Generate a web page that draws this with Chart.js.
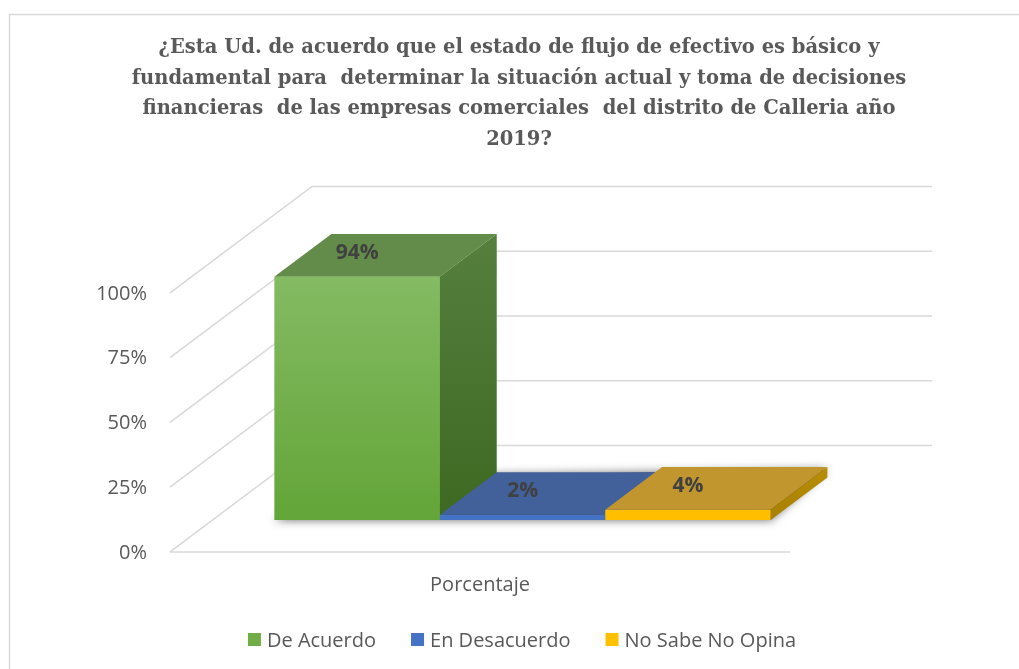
<!DOCTYPE html>
<html>
<head>
<meta charset="utf-8">
<script src="https://cdn.jsdelivr.net/npm/chart.js@4.4.1/dist/chart.umd.min.js"></script>
<style>
  body { margin: 0; background: #fff; }
  canvas { display: block; }
</style>
</head>
<body>
<canvas id="chart" width="1019" height="669"></canvas>
<script>
var titleLines = [
    "¿Esta Ud. de acuerdo que el estado de flujo de efectivo es básico y",
    "fundamental para  determinar la situación actual y toma de decisiones",
    "financieras  de las empresas comerciales  del distrito de Calleria año",
    "2019?"
];
var categories = ["Porcentaje"];
var seriesNames = ["De Acuerdo", "En Desacuerdo", "No Sabe No Opina"];
var deAcuerdo = [94];
var enDesacuerdo = [2];
var noSabe = [4];
var yTicks = [0, 25, 50, 75, 100];
var yTickLabels = ["0%", "25%", "50%", "75%", "100%"];

// colours of each box: front gradient, top face, side gradient, legend swatch
var green = { front: ["#86bc66", "#63a538"], top: "#638b49", side: ["#567f3e", "#3d6922"], key: "#70ad47" };
var blue = { front: ["#4a7ad0", "#4472c4"], top: "#42609a", side: ["#34568f", "#2c4c80"], key: "#4472c4" };
var yellow = { front: ["#ffc614", "#ffbf00"], top: "#c2962f", side: ["#b98e06", "#a88000"], key: "#ffc000" };
var looks = [green, blue, yellow];

// oblique 3d: full floor depth in px, bars sit from 30% to 70% of it
var depthX = 142, depthY = -106.5;
var barFront = 0.3, barDepth = 0.4;
var gridColor = "#d9d9d9";
var textColor = "#595959";

function frontGradient(ctx, area, c) {
    var g = ctx.createLinearGradient(0, area.top, 0, area.bottom);
    g.addColorStop(0, c[0]);
    g.addColorStop(1, c[1]);
    return g;
}

var walls3d = {
    id: "walls3d",
    beforeDraw: function (chart) {
        var ctx = chart.ctx;
        var xs = chart.scales.x, ys = chart.scales.y;
        ctx.save();
        ctx.fillStyle = "#fff";
        ctx.fillRect(0, 0, chart.width, chart.height);

        // outer frame (runs off the right and bottom)
        ctx.strokeStyle = "#d9d9d9";
        ctx.lineWidth = 1.5;
        ctx.beginPath();
        ctx.moveTo(9.5, chart.height);
        ctx.lineTo(9.5, 14.5);
        ctx.lineTo(chart.width, 14.5);
        ctx.stroke();

        // title
        ctx.fillStyle = textColor;
        ctx.font = "bold 19.5px 'DejaVu Serif'";
        ctx.textAlign = "center";
        ctx.textBaseline = "middle";
        for (var i = 0; i < titleLines.length; i++) {
            ctx.fillText(titleLines[i], 519, 48 + i * 30.7);
        }

        var fx = -barFront * depthX, fy = -barFront * depthY;
        var bx = (1 - barFront) * depthX, by = (1 - barFront) * depthY;
        ctx.strokeStyle = gridColor;
        ctx.lineWidth = 1.6;
        ctx.beginPath();
        for (var k = 0; k < yTicks.length; k++) {
            var py = ys.getPixelForValue(yTicks[k]);
            ctx.moveTo(xs.left + fx, py + fy);
            ctx.lineTo(xs.left + bx, py + by);
            ctx.lineTo(xs.right + bx, py + by);
        }
        var p0 = ys.getPixelForValue(0);
        ctx.moveTo(xs.left + fx, p0 + fy);
        ctx.lineTo(xs.right + fx, p0 + fy);
        ctx.stroke();
        ctx.restore();
    },
    beforeDatasetsDraw: function (chart) {
        var ctx = chart.ctx;
        var first = chart.getDatasetMeta(0).data[0];
        var last = chart.getDatasetMeta(chart.data.datasets.length - 1).data[0];
        var dx = barDepth * depthX, dy = barDepth * depthY;
        var l = first.x - first.width / 2, r = last.x + last.width / 2, b = first.base;
        ctx.save();
        ctx.shadowColor = "rgba(0,0,0,0.6)";
        ctx.shadowBlur = 10;
        ctx.fillStyle = "#444";
        ctx.beginPath();
        ctx.moveTo(l, b);
        ctx.lineTo(r, b);
        ctx.lineTo(r + dx, b + dy - 8);
        ctx.lineTo(l + dx, b + dy);
        ctx.closePath();
        ctx.fill();
        ctx.restore();
    },
    afterDatasetsDraw: function (chart) {
        var ctx = chart.ctx;
        var dx = barDepth * depthX, dy = barDepth * depthY;
        ctx.save();
        for (var i = 0; i < chart.data.datasets.length; i++) {
            var el = chart.getDatasetMeta(i).data[0];
            var look = looks[i];
            var l = el.x - el.width / 2, r = el.x + el.width / 2, t = el.y, b = el.base;
            el.draw(ctx, chart.chartArea);

            ctx.fillStyle = look.top;
            ctx.beginPath();
            ctx.moveTo(l, t);
            ctx.lineTo(r, t);
            ctx.lineTo(r + dx, t + dy);
            ctx.lineTo(l + dx, t + dy);
            ctx.closePath();
            ctx.fill();

            var g = ctx.createLinearGradient(0, t + dy, 0, b);
            g.addColorStop(0, look.side[0]);
            g.addColorStop(1, look.side[1]);
            ctx.fillStyle = g;
            ctx.beginPath();
            ctx.moveTo(r, t);
            ctx.lineTo(r + dx, t + dy);
            ctx.lineTo(r + dx, b + dy);
            ctx.lineTo(r, b);
            ctx.closePath();
            ctx.fill();
        }
        // value labels on the top faces
        ctx.fillStyle = "#404040";
        ctx.font = "bold 21px 'Open Sans'";
        ctx.textAlign = "center";
        ctx.textBaseline = "middle";
        for (var j = 0; j < chart.data.datasets.length; j++) {
            var e = chart.getDatasetMeta(j).data[0];
            ctx.fillText(chart.data.datasets[j].data[0] + "%", e.x, e.y - 24);
        }
        ctx.restore();
    },
    afterDraw: function (chart) {
        var ctx = chart.ctx;
        var xs = chart.scales.x, ys = chart.scales.y;
        var fx = -barFront * depthX, fy = -barFront * depthY;
        ctx.save();
        ctx.fillStyle = textColor;
        ctx.font = "20px 'Open Sans'";
        ctx.textBaseline = "middle";
        ctx.textAlign = "right";
        for (var k = 0; k < yTicks.length; k++) {
            ctx.fillText(yTickLabels[k], xs.left + fx - 23, ys.getPixelForValue(yTicks[k]) + fy + 1);
        }
        ctx.textAlign = "center";
        ctx.fillText(categories[0], (xs.left + xs.right) / 2 + fx, 585);

        // legend
        var sw = 13, gapIn = 6, gapOut = 35, total = 0;
        var widths = [];
        for (var i = 0; i < seriesNames.length; i++) {
            widths.push(ctx.measureText(seriesNames[i]).width);
            total += sw + gapIn + widths[i];
        }
        total += gapOut * (seriesNames.length - 1);
        var x = 522 - total / 2, y = 640;
        ctx.textAlign = "left";
        for (var i = 0; i < seriesNames.length; i++) {
            ctx.fillStyle = looks[i].key;
            ctx.fillRect(x, y - 7, sw, sw);
            ctx.fillStyle = textColor;
            ctx.fillText(seriesNames[i], x + sw + gapIn, y + 1);
            x += sw + gapIn + widths[i] + gapOut;
        }
        ctx.restore();
    }
};

var values = [deAcuerdo, enDesacuerdo, noSabe];
var datasets = [];
for (var i = 0; i < seriesNames.length; i++) {
    (function (look) {
        datasets.push({
            label: seriesNames[i],
            data: values[i],
            borderWidth: 0,
            backgroundColor: function (c) {
                if (!c.chart.chartArea) return look.front[1];
                return frontGradient(c.chart.ctx, c.chart.chartArea, look.front);
            }
        });
    })(looks[i]);
}

new Chart(document.getElementById("chart"), {
    type: "bar",
    data: { labels: categories, datasets: datasets },
    options: {
        responsive: false,
        animation: false,
        events: [],
        categoryPercentage: 0.8,
        barPercentage: 1.0,
        layout: { padding: { left: 212.6, right: 186.4, top: 261, bottom: 149 } },
        scales: {
            x: { display: false },
            y: { display: false, min: 0, max: 100, ticks: { stepSize: 25 } }
        },
        plugins: {
            legend: { display: false },
            title: { display: false },
            tooltip: { enabled: false }
        }
    },
    plugins: [walls3d]
});
</script>
</body>
</html>
